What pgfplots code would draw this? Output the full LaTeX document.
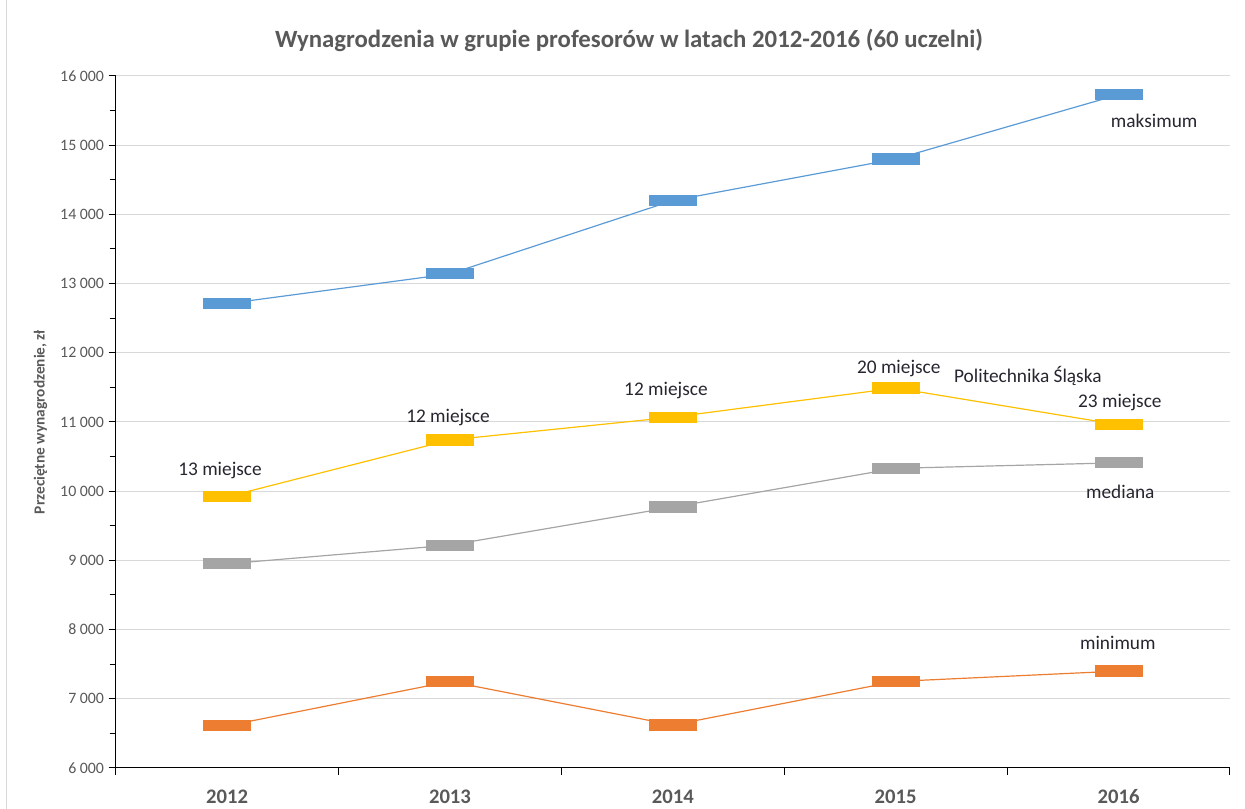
\documentclass[border=0pt]{standalone}
\usepackage{pgfplots}
\pgfplotsset{compat=1.18}
\usepackage{fontspec}
\setmainfont{Carlito}
\definecolor{cblue}{HTML}{5B9BD5}
\definecolor{corange}{HTML}{ED7D31}
\definecolor{cgray}{HTML}{A5A5A5}
\definecolor{cyellow}{HTML}{FFC000}
\definecolor{labgray}{HTML}{595959}
\definecolor{gridgray}{HTML}{D9D9D9}
\definecolor{annot}{HTML}{262630}
\pgfdeclareplotmark{dashbar}{\pgfpathrectangle{\pgfpoint{-18pt}{-4.2pt}}{\pgfpoint{36pt}{8.4pt}}\pgfusepathqfill}
\begin{document}
\begin{tikzpicture}[x=1pt,y=1pt]
\path[use as bounding box] (-86.8,-30.75) rectangle (847,576);
\draw[gridgray, line width=0.75pt] (-82,-30.75) -- (-82,576);
\begin{axis}[
  at={(0,0)}, anchor=south west,
  scale only axis, width=835.7pt, height=519pt,
  xmin=-0.5, xmax=4.5, ymin=6000, ymax=16000,
  axis x line*=bottom, axis y line*=left,
  axis line style={black, line width=0.75pt},
  tick style={black, line width=0.75pt},
  tick align=outside,
  major tick length=5.25pt, minor tick length=4.5pt,
  xtick={-0.5,0.5,1.5,2.5,3.5,4.5}, xticklabels={},
  extra x ticks={0,1,2,3,4},
  extra x tick labels={2012,2013,2014,2015,2016},
  extra x tick style={major tick length=0pt, tick style={draw=none},
    tick label style={font=\bfseries\fontsize{15.5}{18}\selectfont, text=labgray,
      text height=10pt, text depth=0pt, yshift=-13pt}},
  ytick={6000,7000,...,16000}, minor y tick num=1,
  scaled y ticks=false,
  ymajorgrids, major grid style={gridgray, line width=0.75pt},
  yticklabel style={font=\fontsize{11.9}{14}\selectfont, text=labgray,
    /pgf/number format/1000 sep={\kern0.226em}, /pgf/number format/assume math mode=true},
  ylabel={Przeciętne wynagrodzenie, zł},
  every axis y label/.style={at={(axis description cs:-0.0675,0.5)}, rotate=90, anchor=center,
    font=\bfseries\fontsize{11.5}{13}\selectfont, text=labgray},
  title={Wynagrodzenia w grupie profesorów w latach 2012-2016 (60 uczelni)},
  every axis title/.style={at={(axis description cs:0.4607,1.052)}, anchor=center,
    font=\bfseries\fontsize{18.6}{22}\selectfont, text=labgray},
  clip=false,
]
\addplot[cblue, line width=0.9pt, mark=dashbar, mark options={fill=cblue, draw=none}]
  coordinates {(0,12710) (1,13140) (2,14200) (3,14800) (4,15730)};
\addplot[cgray, line width=0.9pt, mark=dashbar, mark options={fill=cgray, draw=none}]
  coordinates {(0,8950) (1,9220) (2,9770) (3,10330) (4,10410)};
\addplot[corange, line width=0.9pt, mark=dashbar, mark options={fill=corange, draw=none}]
  coordinates {(0,6610) (1,7250) (2,6620) (3,7250) (4,7400)};
\addplot[cyellow, line width=0.9pt, mark=dashbar, mark options={fill=cyellow, draw=none}]
  coordinates {(0,9920) (1,10740) (2,11070) (3,11490) (4,10960)};
\begin{scope}[every node/.style={font=\fontsize{14.5}{17}\selectfont, text=annot, anchor=center, inner sep=0pt}]
\node at (axis cs:-0.032,10292) {13 miejsce};
\node at (axis cs:0.991,11058) {12 miejsce};
\node at (axis cs:1.969,11448) {12 miejsce};
\node at (axis cs:3.014,11766) {20 miejsce};
\node at (axis cs:3.593,11665) {Politechnika Śląska};
\node at (axis cs:4.006,11279) {23 miejsce};
\node at (axis cs:4.160,15350) {maksimum};
\node at (axis cs:4.008,9993) {mediana};
\node at (axis cs:3.997,7806) {minimum};
\end{scope}
\end{axis}
\end{tikzpicture}
\end{document}
